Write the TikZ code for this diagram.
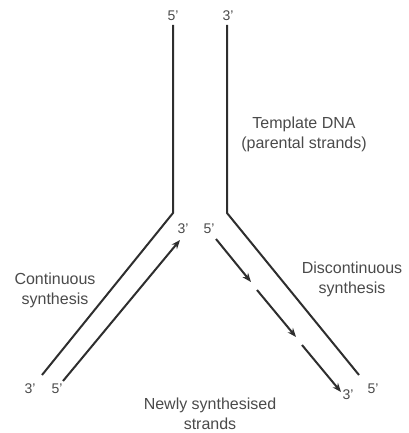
\documentclass[tikz,border=0pt]{standalone}
\usepackage{fontspec}
\setmainfont{Liberation Sans}
\usetikzlibrary{arrows.meta}
\definecolor{strandcol}{HTML}{2E2E2E}
\definecolor{lblcol}{HTML}{4A4A4A}
\begin{document}
\begin{tikzpicture}[x=1pt,y=-1pt,
  strandline/.style={draw=strandcol,line width=2pt},
  newline/.style={draw=strandcol,line width=2pt,-{Stealth[length=9pt,width=7pt]}},
  endlbl/.style={text=lblcol,font=\fontsize{14}{16}\selectfont,inner sep=0pt},
  caption/.style={text=lblcol,font=\fontsize{16}{20}\selectfont,align=center,inner sep=0pt}]
\useasboundingbox (0,0) rectangle (408,433);
% parental strands
\coordinate (LT) at (173,25);
\coordinate (LB) at (173,213);
\coordinate (LE) at (42,375);
\coordinate (RT) at (227,25);
\coordinate (RB) at (227,213);
\coordinate (RE) at (359,375);
\draw[strandline] (LT) -- (LB) -- (LE);
\draw[strandline] (RT) -- (RB) -- (RE);
% leading strand
\coordinate (NS) at (63,381);
\coordinate (NT) at (180,240);
\draw[newline] (NS) -- (NT);
% lagging strand fragments
\coordinate (F1s) at (216,239);
\coordinate (F1e) at (251,282);
\coordinate (F2s) at (257,290);
\coordinate (F2e) at (296,337);
\coordinate (F3s) at (302,345);
\coordinate (F3e) at (341,392);
\draw[newline] (F1s) -- (F1e);
\draw[newline] (F2s) -- (F2e);
\draw[newline] (F3s) -- (F3e);
% end labels
\node[endlbl] (l5top) at (173,16) {5'};
\node[endlbl] (r3top) at (228,16) {3'};
\node[endlbl] (l3mid) at (183,229) {3'};
\node[endlbl] (r5mid) at (209,229) {5'};
\node[endlbl] (l3bot) at (30,389) {3'};
\node[endlbl] (l5bot) at (57,389) {5'};
\node[endlbl] (r3bot) at (348,395) {3'};
\node[endlbl] (r5bot) at (373,389) {5'};
% captions
\node[caption] (tmpl) at (304,134) {Template DNA\\(parental strands)};
\node[caption] (cont) at (55,290) {Continuous\\synthesis};
\node[caption] (disc) at (352,279) {Discontinuous\\synthesis};
\node[caption] (newly) at (210,414) {Newly synthesised\\strands};
\end{tikzpicture}
\end{document}
